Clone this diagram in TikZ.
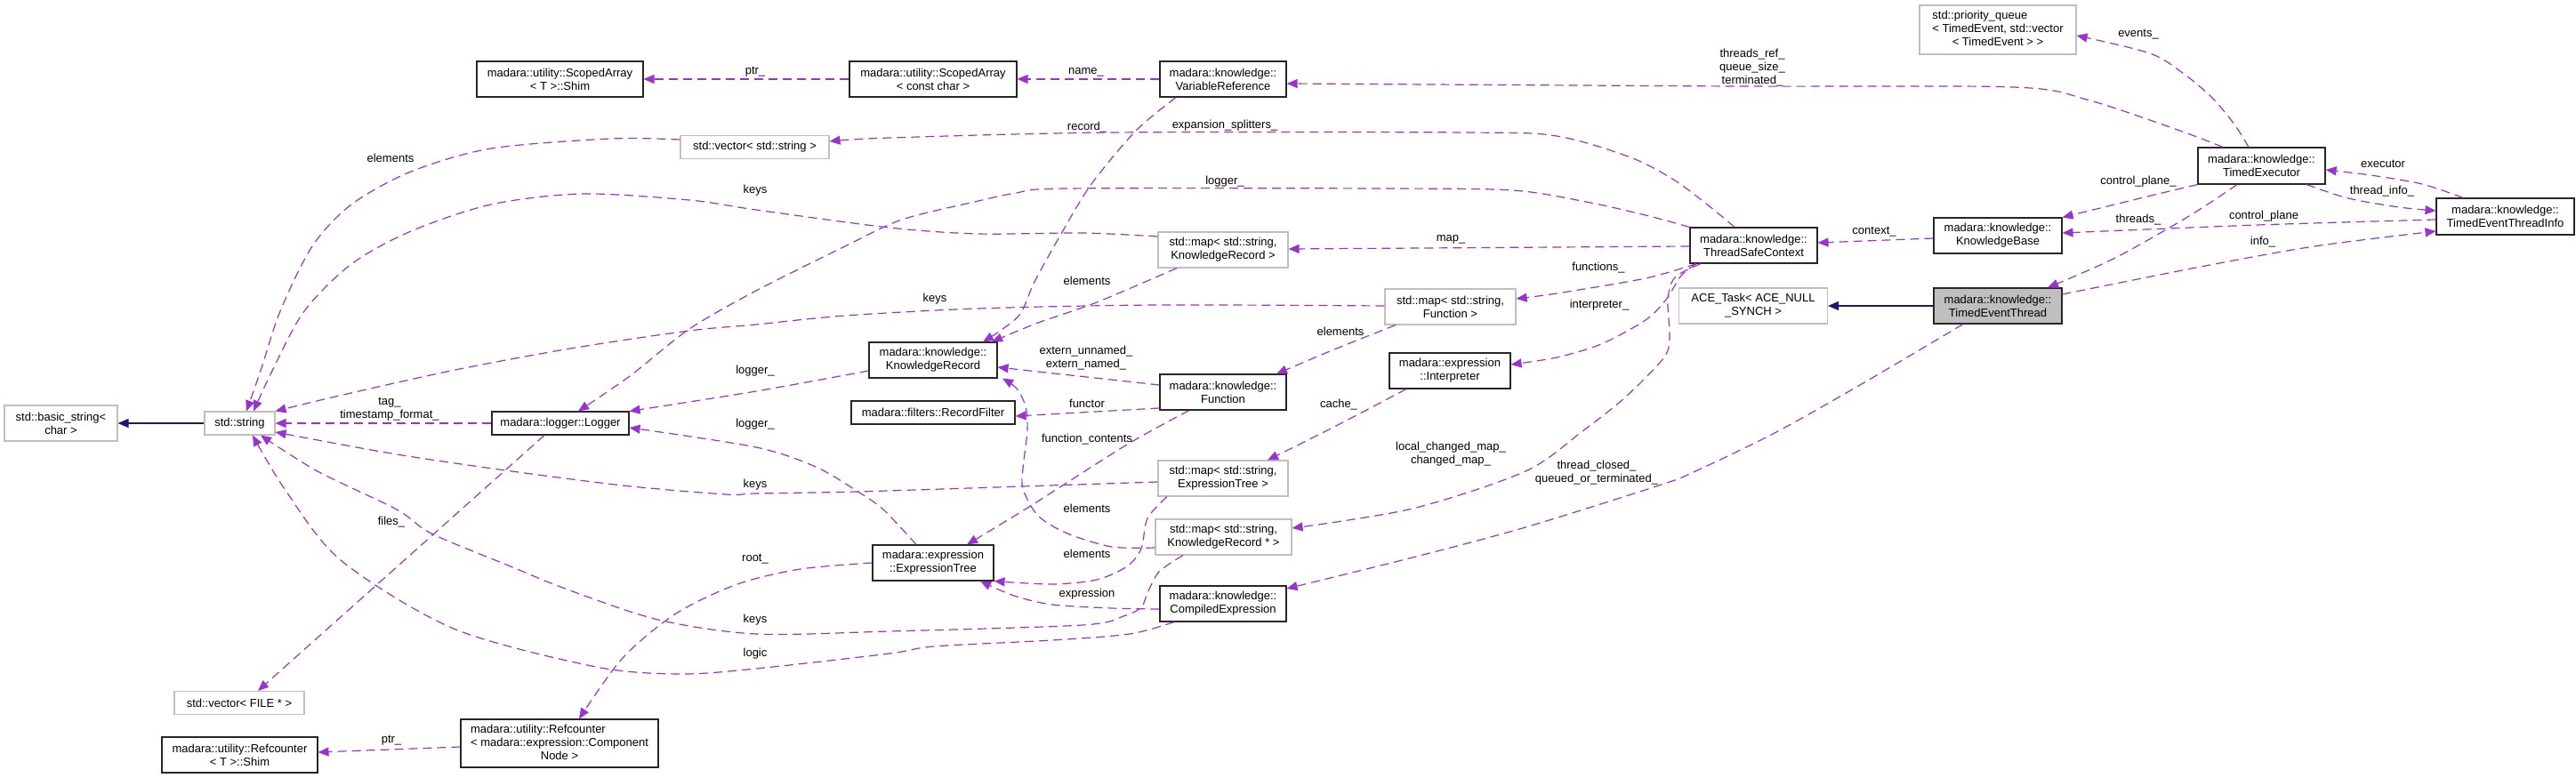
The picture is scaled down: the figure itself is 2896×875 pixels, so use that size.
\documentclass[tikz,border=0pt]{standalone}
\usepackage{fontspec}
\setmainfont{Liberation Sans}
\usetikzlibrary{arrows.meta}
\definecolor{dpurple}{HTML}{9A32CD}
\definecolor{dnavy}{HTML}{191970}
\definecolor{dgrey}{HTML}{BFBFBF}
\begin{document}
\begin{tikzpicture}[x=1pt,y=-1pt,
  box/.style={draw=black!85, line width=1.1pt, fill=white, inner sep=0pt, align=center, font=\fontsize{13}{15}\selectfont},
  gbox/.style={box, draw=dgrey},
  sz/.style 2 args={minimum width=#1pt, minimum height=#2pt},
  lbl/.style={inner sep=0pt, align=center, font=\fontsize{13}{15}\selectfont},
  dep/.style={draw=dpurple, line width=1.2pt, dash pattern=on 10pt off 6pt, -{Triangle[length=12pt,width=10pt]}},
  inh/.style={draw=dnavy, line width=1.2pt, -{Triangle[length=12pt,width=10pt]}},
]
\useasboundingbox (0,0) rectangle (2896,875);

% ---------- nodes ----------
\node[gbox, sz={127}{40}] (bstr) at (68.5,476) {std::basic\_string<\\char >};
\node[gbox, sz={79}{26}] (str) at (269.5,476) {std::string};
\node[box, sz={154}{26}] (logger) at (630,476) {madara::logger::Logger};
\node[gbox, sz={146}{26}] (vecfile) at (269,790.5) {std::vector< FILE * >};
\node[box, sz={175}{40}] (rcshim) at (269.5,849) {madara::utility::Refcounter\\< T >::Shim};
\node[box, sz={222}{54}] (rc) at (629,836) {\begin{tabular}{@{}l@{}}madara::utility::Refcounter\\< madara::expression::Component\\\multicolumn{1}{@{}c@{}}{Node >}\end{tabular}};
\node[box, sz={187}{40}] (sashim) at (629.5,89) {madara::utility::ScopedArray\\< T >::Shim};
\node[gbox, sz={167}{26}] (vecstr) at (848.5,165.5) {std::vector< std::string >};
\node[box, sz={188}{40}] (sacc) at (1049,89) {madara::utility::ScopedArray\\< const char >};
\node[box, sz={142}{40}] (vr) at (1375,89) {madara::knowledge::\\VariableReference};
\node[box, sz={144}{40}] (kr) at (1049,405) {madara::knowledge::\\KnowledgeRecord};
\node[box, sz={184}{26}] (rf) at (1049,464) {madara::filters::RecordFilter};
\node[box, sz={136}{40}] (et) at (1049,633) {madara::expression\\::ExpressionTree};
\node[gbox, sz={146}{40}] (mapkr) at (1375,281) {std::map< std::string,\\KnowledgeRecord >};
\node[box, sz={142}{40}] (fn) at (1375,441) {madara::knowledge::\\Function};
\node[gbox, sz={146}{40}] (mapet) at (1375,538) {std::map< std::string,\\ExpressionTree >};
\node[gbox, sz={153}{40}] (mapkrp) at (1375.5,604) {std::map< std::string,\\KnowledgeRecord * >};
\node[box, sz={142}{40}] (ce) at (1375,679) {madara::knowledge::\\CompiledExpression};
\node[gbox, sz={147}{40}] (mapfn) at (1630.5,345) {std::map< std::string,\\Function >};
\node[box, sz={136}{40}] (interp) at (1630,417) {madara::expression\\::Interpreter};
\node[box, sz={143}{40}] (tsc) at (1971.5,276) {madara::knowledge::\\ThreadSafeContext};
\node[gbox, sz={167}{40}] (ace) at (1971,344) {ACE\_Task< ACE\_NULL\\\_SYNCH >};
\node[box, sz={144}{40}] (kb) at (2246,265) {madara::knowledge::\\KnowledgeBase};
\node[box, sz={144}{40}, fill=dgrey] (tet) at (2246,344) {madara::knowledge::\\TimedEventThread};
\node[gbox, sz={176}{55}] (pq) at (2246,33.5) {\begin{tabular}{@{}l@{}}std::priority\_queue\\< TimedEvent, std::vector\\\multicolumn{1}{@{}c@{}}{< TimedEvent > >}\end{tabular}};
\node[box, sz={143}{41}] (te) at (2542.5,186.5) {madara::knowledge::\\TimedExecutor};
\node[box, sz={155}{41}] (teti) at (2816.5,243.5) {madara::knowledge::\\TimedEventThreadInfo};

% ---------- labels ----------
\node[lbl] (l01) at (849,81) {ptr\_};
\node[lbl] (l02) at (1221,81) {name\_};
\node[lbl] (l03) at (1970,76) {threads\_ref\_\\queue\_size\_\\terminated\_};
\node[lbl] (l04) at (2404,39) {events\_};
\node[lbl] (l05) at (1222,143) {record\_};
\node[lbl] (l06) at (1377,141) {expansion\_splitters\_};
\node[lbl] (l07) at (439,178) {elements};
\node[lbl] (l08) at (1377,204) {logger\_};
\node[lbl] (l09) at (849,214) {keys};
\node[lbl] (l10) at (2679,184) {executor};
\node[lbl] (l11) at (2404,204) {control\_plane\_};
\node[lbl] (l12) at (2678,215) {thread\_info\_};
\node[lbl] (l13) at (2545,243) {control\_plane};
\node[lbl] (l14) at (2404,247) {threads\_};
\node[lbl] (l15) at (2107,261) {context\_};
\node[lbl] (l16) at (1631,269) {map\_};
\node[lbl] (l17) at (2544,272) {info\_};
\node[lbl] (l18) at (1797,301) {functions\_};
\node[lbl] (l19) at (1222,316) {elements};
\node[lbl] (l20) at (1051,336) {keys};
\node[lbl] (l21) at (1798,343) {interpreter\_};
\node[lbl] (l22) at (1507,373) {elements};
\node[lbl] (l23) at (1221,403) {extern\_unnamed\_\\extern\_named\_};
\node[lbl] (l24) at (849,417) {logger\_};
\node[lbl] (l25) at (438,460) {tag\_\\timestamp\_format\_};
\node[lbl] (l26) at (1222,454) {functor};
\node[lbl] (l27) at (1505,455) {cache\_};
\node[lbl] (l28) at (849,477) {logger\_};
\node[lbl] (l29) at (1222,494) {function\_contents};
\node[lbl] (l30) at (1631,511) {local\_changed\_map\_\\changed\_map\_};
\node[lbl] (l31) at (1795,532) {thread\_closed\_\\queued\_or\_terminated\_};
\node[lbl] (l32) at (849,545) {keys};
\node[lbl] (l33) at (1222,572) {elements};
\node[lbl] (l34) at (440,587) {files\_};
\node[lbl] (l35) at (849,629) {root\_};
\node[lbl] (l36) at (1222,623) {elements};
\node[lbl] (l37) at (1222,668) {expression};
\node[lbl] (l38) at (849,697) {keys};
\node[lbl] (l39) at (849,735) {logic};
\node[lbl] (l40) at (440,833) {ptr\_};

% ---------- inheritance ----------
\draw[inh] (str.west) -- (bstr.east);
\draw[inh] (tet.west) -- (ace.east);

% ---------- usage ----------
\draw[dep] (sacc.west) -- (sashim.east);
\draw[dep] (vr.west) -- (sacc.east);
\draw[dep] plot[smooth] coordinates {(te.north -| 2499,0) (2448,146) (2346,112) (2263,98) (1950,97) (vr.east |- 0,94)};
\draw[dep] plot[smooth] coordinates {(te.north -| 2528,0) (2512,140) (2487,110) (2455,83) (2417,60) (pq.east |- 0,40)};
\draw[dep] plot[smooth] coordinates {(vr.south -| 1322,0) (1277,147) (1227,207) (1193,263) (1163,317) (1147,353) (1123,373) (kr.north -| 1105,0)};
\draw[dep] plot[smooth] coordinates {(tsc.north -| 1950,0) (1923,233) (1883,203) (1833,177) (1750,153) (1650,149) (1250,149) (1000,155) (vecstr.east |- 0,159)};
\draw[dep] plot[smooth] coordinates {(vecstr.west |- 0,157) (686,156) (552,167) (462,193) (395,230) (351,277) (315,350) (293,417) (str.north -| 277,0)};
\draw[dep] plot[smooth] coordinates {(tsc.north west) (1850,242) (1783,227) (1700,214) (1550,212) (1200,212) (1143,217) (1100,226) (1014,247) (950,277) (850,327) (775,370) (708,423) (logger.north -| 650,0)};
\draw[dep] plot[smooth] coordinates {(mapkr.west |- 0,266) (1217,262) (1100,263) (1000,256) (850,236) (775,225) (654,218) (552,230) (462,260) (395,297) (342,350) (306,417) (str.north -| 285,0)};
\draw[dep] (tsc.west |- 0,277) -- (mapkr.east |- 0,280);
\draw[dep] plot[smooth] coordinates {(tsc.south -| 1907,0) (1850,313) (1750,330) (mapfn.east |- 0,336)};
\draw[dep] plot[smooth] coordinates {(tsc.south -| 1907,0) (1890,310) (1873,337) (1850,360) (1800,387) (1750,402) (interp.east |- 0,410)};
\draw[dep] plot[smooth] coordinates {(tsc.south -| 1912,0) (1883,312) (1875,337) (1877,380) (1870,403) (1827,447) (1779,485) (1715,530) (1588,572) (mapkrp.east |- 0,594)};
\draw[dep] plot[smooth] coordinates {(mapkr.south -| 1323,0) (1233,340) (1167,363) (kr.north -| 1115,0)};
\draw[dep] plot[smooth] coordinates {(mapfn.west |- 0,344) (1300,343) (1100,347) (950,355) (850,365) (775,372) (641,392) (507,417) (373,447) (str.north east)};
\draw[dep] plot[smooth] coordinates {(mapfn.south -| 1569,0) (1500,393) (fn.north -| 1435,0)};
\draw[dep] (fn.west |- 0,433) -- (kr.east |- 0,413);
\draw[dep] plot[smooth] coordinates {(kr.west |- 0,417) (850,440) (logger.north east)};
\draw[dep] (fn.west |- 0,459) -- (rf.east |- 0,468);
\draw[dep] plot[smooth] coordinates {(fn.south -| 1337,0) (1267,500) (1157,570) (et.north -| 1087,0)};
\draw[dep] plot[smooth] coordinates {(et.north -| 1030,0) (993,573) (963,552) (917,525) (850,503) (logger.east |- 0,481)};
\draw[dep] (logger.west) -- (str.east);
\draw[dep] plot[smooth] coordinates {(interp.south -| 1581,0) (1500,480) (mapet.north -| 1425,0)};
\draw[dep] plot[smooth] coordinates {(mapet.west |- 0,542) (1150,547) (963,553) (850,555) (816,556) (700,546) (561,528) (440,510) (str.east |- 0,486)};
\draw[dep] plot[smooth] coordinates {(mapkrp.west |- 0,616) (1250,615) (1200,600) (1167,580) (1150,550) (1150,527) (1155,483) (1153,457) (1143,437) (kr.south -| 1127,0)};
\draw[dep] plot[smooth] coordinates {(mapet.south -| 1312,0) (1290,583) (1283,617) (1267,637) (1233,652) (1183,657) (et.south east)};
\draw[dep] plot[smooth] coordinates {(mapkrp.south -| 1330,0) (1303,643) (1290,667) (1283,683) (1263,693) (1217,703) (1000,710) (850,713) (740,697) (638,663) (574,637) (485,600) (446,573) (357,530) (str.south -| 293,0)};
\draw[dep] plot[smooth] coordinates {(ce.west |- 0,685) (1250,684) (1183,680) (1140,670) (et.south -| 1102,0)};
\draw[dep] plot[smooth] coordinates {(ce.south -| 1320,0) (1270,713) (1183,720) (1050,727) (1000,735) (850,752) (765,758) (670,750) (510,707) (383,630) (320,550) (str.south -| 284,0)};
\draw[dep] plot[smooth] coordinates {(tet.south -| 2207,0) (2091,433) (1995,487) (1906,530) (1868,545) (1715,593) (1588,627) (ce.east |- 0,662)};
\draw[dep] plot[smooth] coordinates {(et.west |- 0,633) (900,640) (829,657) (760,690) (700,740) (rc.north -| 651,0)};
\draw[dep] (logger.south -| 612,0) -- (vecfile.north -| 290,0);
\draw[dep] (rc.west |- 0,840) -- (rcshim.east |- 0,846);
\draw[dep] (kb.west |- 0,268) -- (tsc.east |- 0,273);
\draw[dep] plot[smooth] coordinates {(te.south west) (2410,222) (kb.north east)};
\draw[dep] plot[smooth] coordinates {(te.south -| 2515,0) (2461,243) (2378,290) (tet.north -| 2302,0)};
\draw[dep] plot[smooth] coordinates {(te.south -| 2593,0) (2640,223) (2697,233) (teti.west |- 0,237)};
\draw[dep] plot[smooth] coordinates {(teti.north -| 2769,0) (2723,207) (2665,197) (te.east |- 0,191)};
\draw[dep] plot[smooth] coordinates {(teti.west |- 0,247) (2538,253) (kb.east |- 0,262)};
\draw[dep] plot[smooth] coordinates {(tet.east |- 0,331) (2474,300) (2602,277) (teti.west |- 0,260)};
\end{tikzpicture}
\end{document}
